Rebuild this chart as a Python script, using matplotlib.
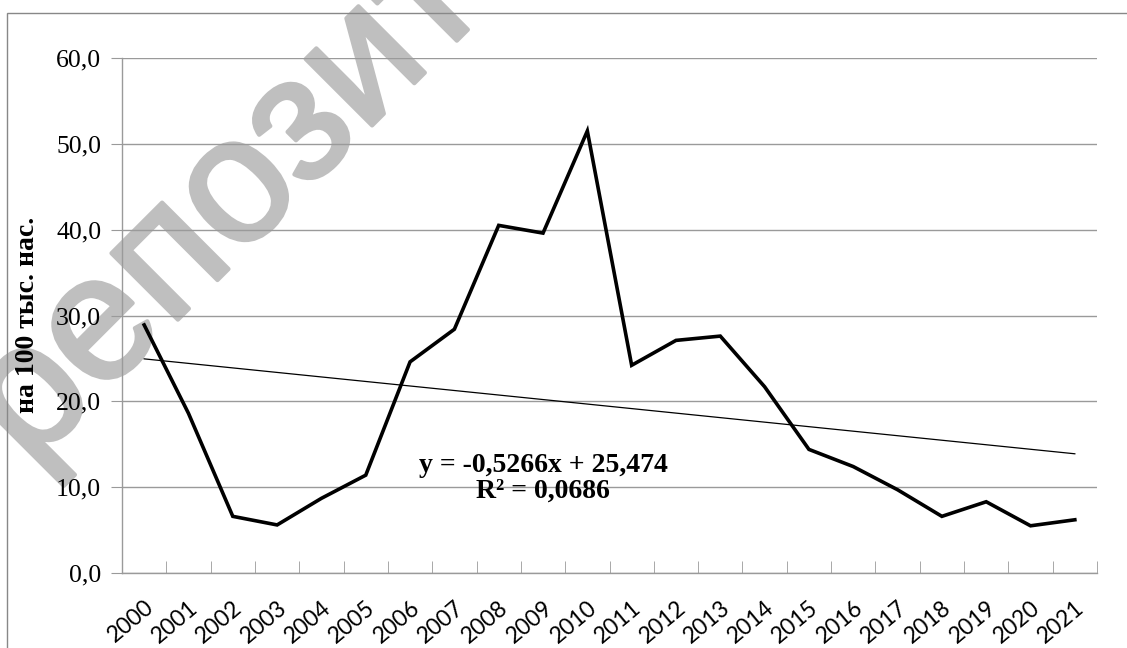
import matplotlib
matplotlib.use("Agg")
import matplotlib.pyplot as plt
import matplotlib.patheffects as pe
from matplotlib.patches import Rectangle
from matplotlib.ticker import FixedLocator, FuncFormatter
import numpy as np

# -------------------------------
# DATA
# -------------------------------
years = [str(y) for y in range(2000, 2022)]
values = [28.9, 18.6, 6.6, 5.6, 8.7, 11.4, 24.6, 28.4, 40.5, 39.6, 51.5,
          24.2, 27.1, 27.6, 21.7, 14.4, 12.4, 9.7, 6.6, 8.3, 5.5, 6.2]
trend_slope = -0.5266
trend_icept = 25.474
r_squared = 0.0686
y_label = "на 100 тыс. нас."
watermark = "репозиторий"

GRID = "#9a9a9a"
SERIF = "Liberation Serif"
WM = "#bfbfbf"

# -------------------------------
# FIGURE
# -------------------------------
fig = plt.figure(figsize=(11.27, 6.48), dpi=100)
W, H = 1127, 648
ax = fig.add_axes([122 / W, 1 - 573 / H, (1097 - 122) / W, (573 - 58) / H])
ax.set_facecolor("none")

x = np.arange(len(years))
ax.plot(x, values, color="black", lw=2.6, solid_joinstyle="miter", zorder=3)

# linear trend (x counted from 1 like in Excel)
xt = x + 1
ax.plot(x, trend_slope * xt + trend_icept, color="black", lw=0.9, zorder=3)

eq = "y = {:.4f}x + {:.3f}\nR² = {:.4f}".format(trend_slope, trend_icept, r_squared)
ax.text(9.0, 11.0, eq.replace(".", ","), ha="center", va="center",
        fontsize=20, fontweight="bold", family=SERIF, linespacing=1.05, zorder=4)

# axes
ax.set_xlim(-0.5, len(years) - 0.5)
ax.set_ylim(0, 60)
ax.set_yticks(np.arange(0, 61, 10))
ax.yaxis.set_major_formatter(FuncFormatter(lambda v, p: f"{v:.1f}".replace(".", ",")))
ax.grid(axis="y", color=GRID, lw=1.0)
ax.set_axisbelow(True)

ax.set_xticks(x)
ax.set_xticklabels(years, rotation=40, ha="right", va="top",
                   rotation_mode="anchor", family="Lato", fontsize=16.5)
ax.xaxis.set_minor_locator(FixedLocator(np.arange(-0.5, len(years), 1)))
ax.tick_params(axis="x", which="major", length=0, pad=17)
ax.tick_params(axis="x", which="minor", direction="in", length=9, color=GRID)
ax.tick_params(axis="y", length=8, color=GRID, pad=7, labelsize=18.5)
for lab in ax.get_yticklabels():
    lab.set_family(SERIF)

for s in ["top", "right"]:
    ax.spines[s].set_visible(False)
for s in ["left", "bottom"]:
    ax.spines[s].set_color(GRID)
    ax.spines[s].set_linewidth(1.0)

fig.text(28 / W, 1 - 315 / H, y_label, rotation=90, ha="center", va="center",
         family=SERIF, fontweight="bold", fontsize=20)

# outer chart frame
fig.add_artist(Rectangle((7 / W, -0.1), 1.2, 1.1 - 13 / H, transform=fig.transFigure,
                         fill=False, ec="#888888", lw=1.0))

# watermark behind the chart
fig.text(366 / W, 1 - 64 / H, watermark, rotation=45, rotation_mode="anchor",
         ha="center", va="center", fontsize=128, family="Liberation Sans",
         color=WM, zorder=-1,
         path_effects=[pe.withStroke(linewidth=3, foreground=WM)])

fig.savefig("out.png", dpi=100)
